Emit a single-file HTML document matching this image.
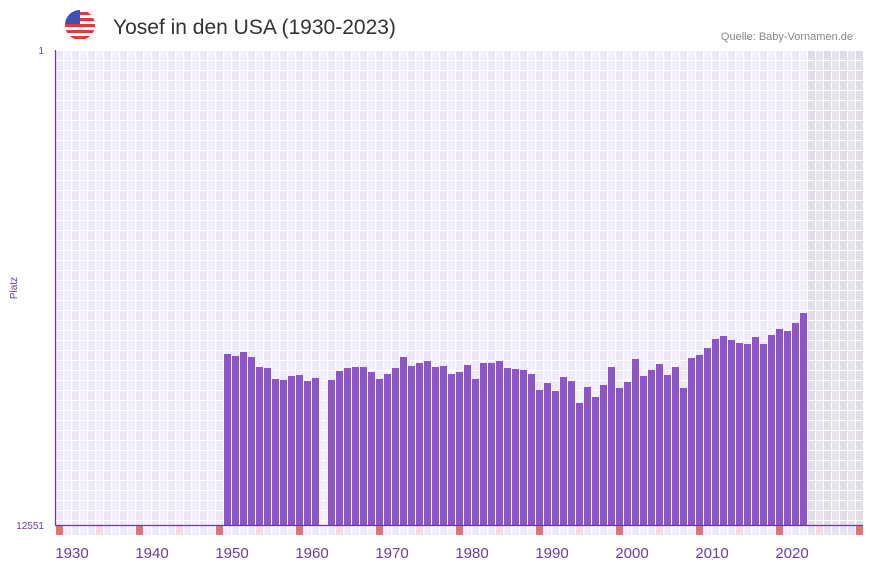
<!DOCTYPE html>
<html><head><meta charset="utf-8"><style>
body{margin:0;background:#fff;width:873px;height:567px;overflow:hidden;font-family:"Liberation Sans",sans-serif}
</style></head><body>
<svg id="s" width="873" height="567" xmlns="http://www.w3.org/2000/svg">
<defs><clipPath id="c"><circle cx="80" cy="25" r="15"/></clipPath></defs>
<g clip-path="url(#c)">
<rect x="65" y="10" width="30" height="30" fill="#fff"/>
<rect x="65" y="12" width="30" height="3" fill="#e53935"/>
<rect x="65" y="18" width="30" height="3" fill="#e53935"/>
<rect x="65" y="24" width="30" height="3" fill="#e53935"/>
<rect x="65" y="30" width="30" height="3" fill="#e53935"/>
<rect x="65" y="36" width="30" height="3" fill="#e53935"/>
<rect x="65" y="10" width="15" height="14" fill="#3f51b5"/>
</g>
<text x="113" y="34" font-size="21" fill="#333">Yosef in den USA (1930-2023)</text>
<text x="853" y="40" font-size="11" fill="#888" text-anchor="end">Quelle: Baby-Vornamen.de</text>
<text x="44" y="54" font-size="10" fill="#6a3d9a" text-anchor="end">1</text>
<text x="44" y="529" font-size="10" fill="#6a3d9a" text-anchor="end">12551</text>
<text x="17" y="288" font-size="10" fill="#6a3d9a" text-anchor="middle" transform="rotate(-90 17 288)">Platz</text>
<g id="g"></g>
<line x1="55.5" y1="50" x2="55.5" y2="525" stroke="#6a3d9a" stroke-width="1.2"/>
<line x1="55" y1="525.5" x2="863" y2="525.5" stroke="#6a3d9a" stroke-width="1.2"/>
</svg>
<script>
const g=document.getElementById('g');let h='';
for(let i=0;i<101;i++){const x=55+i*8;const yr=1928+i;const sh=yr>=2022;
 for(let r=0;r<48;r++){const y=50+r*10;if(y>=525)break;
  const a=(i%2==0);let col=sh?(a?'#e0dcea':'#e6e2ee'):(a?'#ede8f8':'#f3effc');
  h+=`<rect x="${x+1}" y="${y+1}" width="7" height="${Math.min(9,524-y)}" fill="${col}"/>`;}
 let m=i%10==0?'#e57373':(i%10==5?'#f8d7e0':(i%2==0?'#ede8f8':'#f3effc'));
 if(sh&&i%10!=0&&i%10!=5)m='#e6e2ee';
 h+=`<rect x="${x+1}" y="526" width="7" height="9" fill="${m}"/>`;}
const t=[354,356,352,357,367,368,379,380,376,375,381,378,0,380,371,368,367,367,372,379,374,368,357,366,363,361,367,366,374,372,365,379,363,363,361,368,369,370,374,390,383,391,377,381,403,387,397,385,367,388,382,359,376,370,364,375,367,388,358,355,348,339,336,340,343,344,337,344,335,329,331,323,313];
t.forEach((v,k)=>{if(!v)return;const x=55+(1949-1928+k)*8;h+=`<rect x="${x+1}" y="${v}" width="7" height="${525-v}" fill="#8e55c8"/>`;});
for(let y=1930;y<=2020;y+=10){const x=55+(y-1928)*8+1;h+=`<text x="${x}" y="558" font-size="15" fill="#6a3d9a" text-anchor="middle">${y}</text>`;}
g.innerHTML=h;
</script>
</body></html>
